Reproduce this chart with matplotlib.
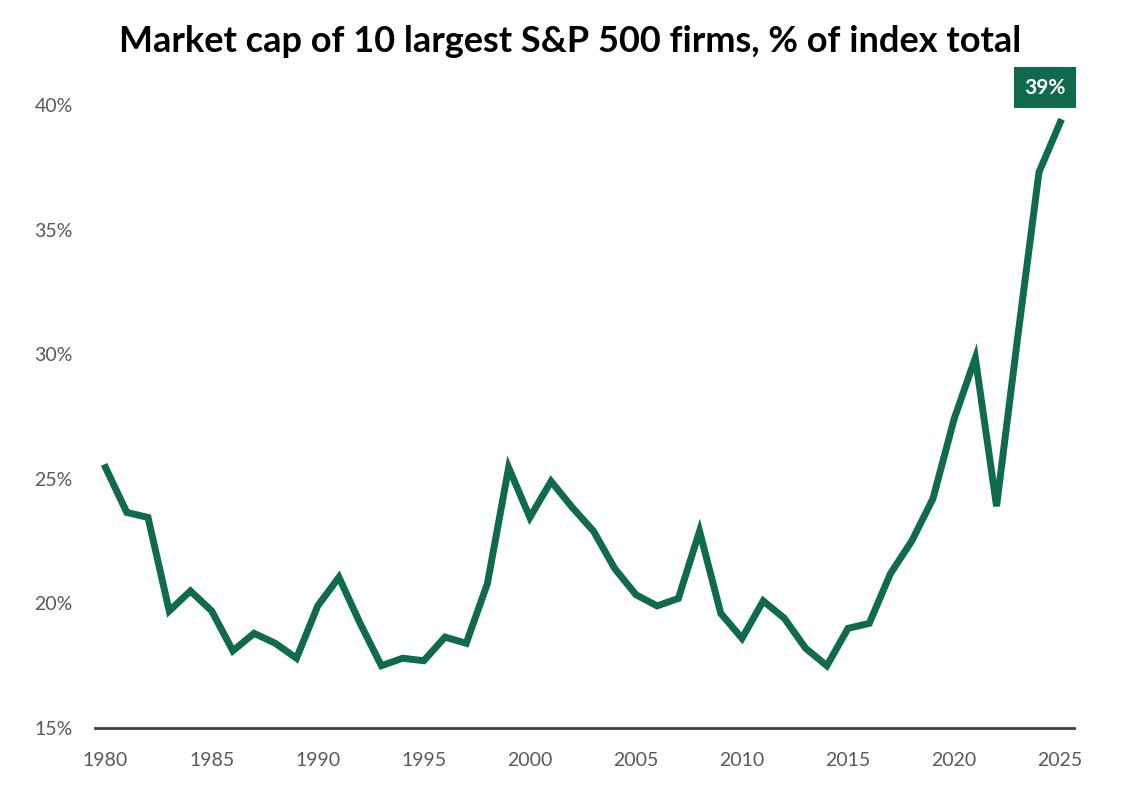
import matplotlib.pyplot as plt
import numpy as np

plt.rcParams['font.family'] = ['Lato', 'DejaVu Sans']

# datos
years = list(range(1980, 2026))
share = [25.45, 23.65, 23.45, 19.7, 20.5, 19.7, 18.1, 18.8, 18.4, 17.8,
         19.9, 21.05, 19.2, 17.5, 17.8, 17.7, 18.65, 18.4, 20.8, 25.45,
         23.45, 24.9, 23.85, 22.9, 21.4, 20.35, 19.9, 20.2, 22.9, 19.6,
         18.6, 20.1, 19.4, 18.2, 17.5, 19.0, 19.2, 21.2, 22.5, 24.2,
         27.4, 29.85, 23.9, 30.7, 37.3, 39.3]
x_ticks = [1980, 1985, 1990, 1995, 2000, 2005, 2010, 2015, 2020, 2025]
y_ticks = [15, 20, 25, 30, 35, 40]
last_label = '39%'

green = '#106a4e'
grey = '#595959'

fig = plt.figure(figsize=(11.24, 7.91), dpi=100)
ax = fig.add_axes([0.0845, 0.0796, 0.871, 0.7877])

ax.plot(years, share, color=green, lw=5, solid_joinstyle='miter', clip_on=False)
ax.set_xlim(1979.5, 2025.65)
ax.set_ylim(15, 40)

ax.set_xticks(x_ticks)
ax.set_yticks(y_ticks)
ax.set_yticklabels([f'{v}%' for v in y_ticks])
ax.tick_params(axis='both', length=0, labelsize=14, labelcolor=grey)
ax.tick_params(axis='x', pad=17)
ax.tick_params(axis='y', pad=16)

for s in ['top', 'right', 'left']:
    ax.spines[s].set_visible(False)
ax.spines['bottom'].set_color('#404040')
ax.spines['bottom'].set_linewidth(2)

# etiqueta del ultimo valor
ax.annotate(last_label, xy=(years[-1], share[-1]), xytext=(-11, 25),
            textcoords='offset points', ha='center', va='center',
            color='white', fontsize=15, fontweight='bold',
            bbox=dict(boxstyle='square,pad=0.5', fc=green, ec='none'),
            annotation_clip=False)

fig.text(0.507, 0.947, 'Market cap of 10 largest S&P 500 firms, % of index total',
         ha='center', va='center', fontsize=26, fontweight='bold', color='black')

plt.savefig('out.png', dpi=100)
